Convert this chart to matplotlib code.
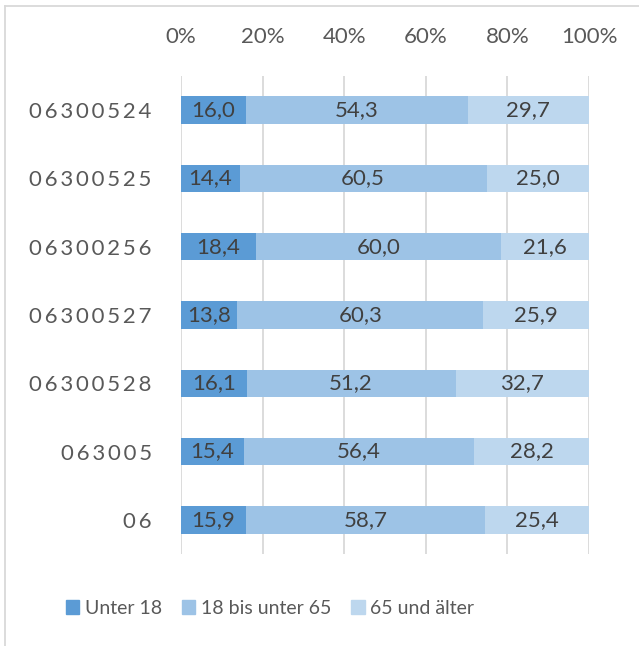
import numpy as np
import matplotlib.pyplot as plt
from matplotlib.lines import Line2D

# data
regions = ["06300524", "06300525", "06300256", "06300527", "06300528", "063005", "06"]
unter18 = [16.0, 14.4, 18.4, 13.8, 16.1, 15.4, 15.9]
mitte = [54.3, 60.5, 60.0, 60.3, 51.2, 56.4, 58.7]
alt = [29.7, 25.0, 21.6, 25.9, 32.7, 28.2, 25.4]
series_names = ["Unter 18", "18 bis unter 65", "65 und älter"]
colors = ["#5B9BD5", "#9DC3E6", "#BDD7EE"]

plt.rcParams['font.family'] = ['Lato', 'DejaVu Sans']

fig = plt.figure(figsize=(6.39, 6.46), dpi=100)
ax = fig.add_axes([181/639, 1 - 554/646, 408/639, 478/646])

y = np.arange(len(regions))
left = np.zeros(len(regions))
for vals, name, col in zip([unter18, mitte, alt], series_names, colors):
    vals = np.array(vals)
    bars = ax.barh(y, vals, left=left, height=0.4, color=col, label=name, zorder=2)
    labels = [f"{v:.1f}".replace(".", ",") for v in vals]
    ax.bar_label(bars, labels=labels, label_type='center', fontsize=16, color="#404040")
    left += vals

ax.set_xlim(0, 100)
ax.set_ylim(len(regions) - 0.5, -0.5)
ax.set_xticks(range(0, 101, 20))
ax.set_xticklabels([f"{t}%" for t in range(0, 101, 20)])
ax.xaxis.tick_top()
ax.tick_params(axis='x', length=0, pad=21, labelsize=16, labelcolor="#595959")
ax.set_yticks(y)
ax.set_yticklabels(["\u2009".join(r) for r in regions])
ax.tick_params(axis='y', length=0, pad=21, labelsize=16, labelcolor="#595959")
ax.grid(axis='x', color="#D9D9D9", linewidth=1.3, zorder=0)
for s in ax.spines.values():
    s.set_visible(False)

handles = [plt.Rectangle((0, 0), 1, 1, color=c) for c in colors]
fig.legend(handles, series_names, loc='center', bbox_to_anchor=(270/639, 1 - 608/646),
           ncol=3, frameon=False, fontsize=14, handlelength=0.7, handleheight=0.7,
           handletextpad=0.3, columnspacing=1.0, labelcolor="#595959")

# outer chart border
fig.add_artist(Line2D([4.5/639, 4.5/639], [0, 1 - 6/646], color="#D9D9D9", lw=1.3))
fig.add_artist(Line2D([4.5/639, 1], [1 - 6/646, 1 - 6/646], color="#D9D9D9", lw=1.3))

fig.savefig("out.png", dpi=100)
